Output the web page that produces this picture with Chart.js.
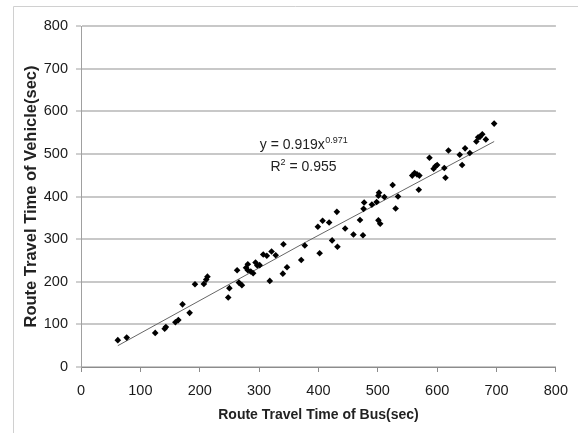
<!DOCTYPE html>
<html>
<head>
<meta charset="utf-8">
<title>Route Travel Time</title>
<script src="https://cdn.jsdelivr.net/npm/chart.js@4.4.1/dist/chart.umd.min.js"></script>
<style>
  html, body { margin: 0; padding: 0; background: #fff; }
  #wrap { width: 578px; height: 433px; }
</style>
</head>
<body>
<div id="wrap"><canvas id="chart" width="578" height="433"></canvas></div>
<script>
// scatter points
const busTime = [62, 77, 125, 141, 143, 159, 164, 171, 183, 192, 207, 211, 213, 248, 250, 263, 266, 271, 278, 281,
  281, 286, 290, 294, 297, 301, 307, 313, 318, 321, 328, 340, 341, 347, 371, 377, 399, 402, 407, 418,
  423, 431, 432, 445, 459, 470, 475, 476, 477, 490, 498, 501, 501, 502, 504, 511, 525, 530, 534, 558,
  562, 566, 570, 569, 587, 594, 597, 600, 612, 614, 619, 638, 642, 647, 655, 666, 669, 672, 676, 682, 696];
const vehicleTime = [63, 69, 80, 90, 94, 105, 110, 147, 127, 194, 195, 205, 212, 163, 185, 227, 198, 192, 233, 241,
  227, 224, 220, 245, 238, 239, 264, 261, 202, 271, 262, 219, 288, 234, 251, 285, 329, 267, 343, 339,
  297, 364, 282, 325, 311, 345, 309, 371, 386, 381, 387, 402, 344, 409, 336, 399, 427, 372, 400, 449,
  455, 452, 449, 416, 491, 465, 471, 474, 467, 444, 508, 498, 474, 513, 502, 529, 539, 540, 546, 534, 571];

// trend line as drawn (power fit)
const trendBus = [62, 380, 696];
const trendVehicle = [50, 294, 529];

const xTicks = [0, 100, 200, 300, 400, 500, 600, 700, 800];
const yTicks = [0, 100, 200, 300, 400, 500, 600, 700, 800];

const equationText = { base: "y = 0.919x", sup: "0.971" };
const r2Text = { pre: "R", sup: "2", post: " = 0.955" };

const FONT = "'Liberation Sans', Arial, sans-serif";

// light frame around the chart (left + top edges visible)
const framePlugin = {
  id: "frame",
  beforeDraw(chart) {
    const ctx = chart.ctx;
    ctx.save();
    ctx.strokeStyle = "#d0d0d0";
    ctx.lineWidth = 1;
    ctx.beginPath();
    ctx.moveTo(13.5, 433);
    ctx.lineTo(13.5, 6.5);
    ctx.lineTo(578, 6.5);
    ctx.stroke();
    ctx.restore();
  }
};

// equation + R² label
const labelPlugin = {
  id: "fitLabel",
  afterDraw(chart) {
    const ctx = chart.ctx;
    ctx.save();
    ctx.fillStyle = "#222";
    ctx.textBaseline = "alphabetic";
    ctx.textAlign = "left";

    const big = "14px " + FONT;
    const small = "9px " + FONT;
    const cx = 303.5;

    ctx.font = big;
    const w1 = ctx.measureText(equationText.base).width;
    ctx.font = small;
    const w1s = ctx.measureText(equationText.sup).width;
    let x = cx - (w1 + w1s) / 2;
    ctx.font = big;
    ctx.fillText(equationText.base, x, 148.5);
    ctx.font = small;
    ctx.fillText(equationText.sup, x + w1 + 0.5, 143);

    ctx.font = big;
    const wr = ctx.measureText(r2Text.pre).width;
    const wp = ctx.measureText(r2Text.post).width;
    ctx.font = small;
    const ws = ctx.measureText(r2Text.sup).width;
    x = cx - (wr + ws + wp) / 2;
    ctx.font = big;
    ctx.fillText(r2Text.pre, x, 171);
    ctx.font = small;
    ctx.fillText(r2Text.sup, x + wr, 165);
    ctx.font = big;
    ctx.fillText(r2Text.post, x + wr + ws, 171);
    ctx.restore();
  }
};

const points = busTime.map((b, i) => ({ x: b, y: vehicleTime[i] }));
const trend = trendBus.map((b, i) => ({ x: b, y: trendVehicle[i] }));

new Chart(document.getElementById("chart"), {
  type: "scatter",
  data: {
    datasets: [
      {
        data: points,
        pointStyle: "rectRot",
        pointRadius: 3.3,
        pointBorderWidth: 0,
        backgroundColor: "#000",
        borderColor: "#000"
      },
      {
        type: "line",
        data: trend,
        borderColor: "#666",
        borderWidth: 1,
        pointRadius: 0,
        fill: false,
        tension: 0
      }
    ]
  },
  options: {
    responsive: false,
    animation: false,
    devicePixelRatio: 1,
    layout: { padding: { top: 26, right: 19, bottom: 0, left: 0 } },
    plugins: { legend: { display: false }, tooltip: { enabled: false } },
    scales: {
      x: {
        type: "linear",
        min: 0,
        max: 800,
        afterBuildTicks: s => { s.ticks = xTicks.map(v => ({ value: v })); },
        afterFit: s => { s.height = 66; },
        ticks: { color: "#1a1a1a", font: { family: FONT, size: 14.5 }, padding: 10 },
        grid: { drawOnChartArea: false, tickLength: 5, color: "#8c8c8c", tickColor: "#8c8c8c" },
        border: { color: "#8c8c8c" },
        title: {
          display: true,
          text: "Route Travel Time of Bus(sec)",
          color: "#222",
          font: { family: FONT, size: 14, weight: "bold" },
          padding: { top: 0, bottom: 9 }
        }
      },
      y: {
        min: 0,
        max: 800,
        afterBuildTicks: s => { s.ticks = yTicks.map(v => ({ value: v })); },
        afterFit: s => { s.width = 81; },
        ticks: { color: "#1a1a1a", font: { family: FONT, size: 14.5 }, padding: 8 },
        grid: { color: "#c8c8c8", lineWidth: 2, tickLength: 5, tickColor: "#a0a0a0", tickWidth: 1 },
        border: { color: "#a0a0a0" },
        title: {
          display: true,
          text: "Route Travel Time of Vehicle(sec)",
          color: "#222",
          font: { family: FONT, size: 16.5, weight: "bold" },
          padding: { top: 22, bottom: 0 }
        }
      }
    }
  },
  plugins: [framePlugin, labelPlugin]
});
</script>
</body>
</html>
